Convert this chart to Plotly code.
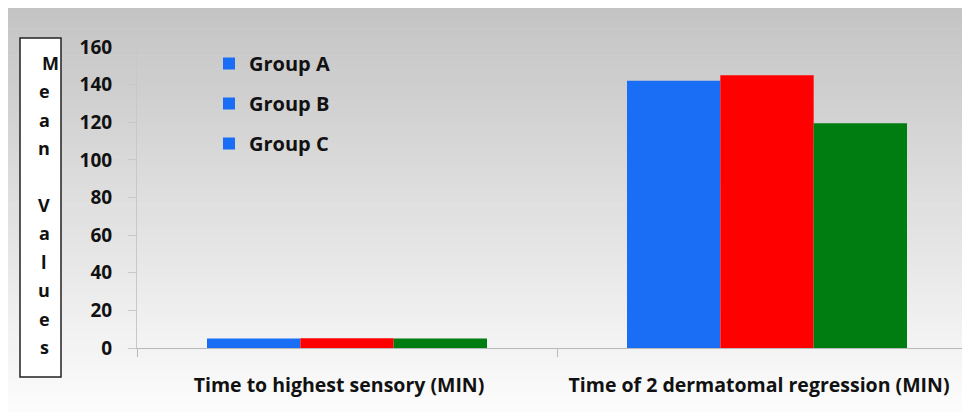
import plotly.graph_objects as go

categories = ["Time to highest sensory (MIN)", "Time of 2 dermatomal regression (MIN)"]
group_names = ["Group A", "Group B", "Group C"]
group_a = [5.1, 142]
group_b = [5.2, 145]
group_c = [5.0, 119.5]
bar_colors = ["#1a6ef5", "#ff0000", "#007d10"]
legend_color = "#1a6ef5"
y_ticks = [0, 20, 40, 60, 80, 100, 120, 140, 160]
y_title_letters = ["M", "e", "a", "n", "", "V", "a", "l", "u", "e", "s"]

# the page body adds an 8px offset; figure coordinates below are page minus 8
W, H = 962, 404
L, R, T, B = 129, 0, 39, 64
PW, PH = W - L - R, H - T - B
FONT = "'Open Sans', sans-serif"


def px(xp):
    return (xp - L) / PW


def py(yp):
    return (H - B - yp) / PH


fig = go.Figure()
for name, vals, col in zip(group_names, [group_a, group_b, group_c], bar_colors):
    fig.add_trace(go.Bar(x=categories, y=vals, name=name, marker_color=col,
                         marker_line_width=0, showlegend=False))
# legend entries (all squares drawn blue as in the source)
for name in group_names:
    fig.add_trace(go.Scatter(x=[None], y=[None], mode="markers", name=name,
                             marker=dict(symbol="square", size=12, color=legend_color),
                             legendgroup=name, showlegend=True))

shapes = []
# background gradient
n = 60
c0, c1 = 196, 252
for i in range(n):
    y0 = H * i / n
    y1 = H * (i + 1) / n + 0.6
    c = int(round(c0 + (c1 - c0) * (i / (n - 1))))
    shapes.append(dict(type="rect", xref="paper", yref="paper", layer="below",
                       x0=px(0), x1=px(W + 2), y0=py(y1), y1=py(y0),
                       line_width=0, fillcolor=f"rgb({c},{c},{c})"))
# y-title box
shapes.append(dict(type="rect", xref="paper", yref="paper",
                   x0=px(12), x1=px(53), y0=py(369), y1=py(30),
                   line=dict(color="#222", width=1.5), fillcolor="white", layer="above"))

annotations = []
for i, ch in enumerate(y_title_letters):
    if not ch:
        continue
    yy = 55 + i * 28.4
    xx = 42 if ch == "M" else 36
    annotations.append(dict(text=ch, x=px(xx), y=py(yy), xref="paper", yref="paper",
                            showarrow=False,
                            font=dict(size=18, color="#111", family=FONT, weight="bold"),
                            xanchor="center", yanchor="middle"))

fig.update_layout(
    width=W, height=H,
    margin=dict(l=L, r=R, t=T, b=B, pad=0),
    paper_bgcolor="white", plot_bgcolor="rgba(0,0,0,0)",
    barmode="group", bargap=1/3, bargroupgap=0,
    font=dict(family=FONT, color="#111"),
    shapes=shapes, annotations=annotations,
    legend=dict(x=px(201), y=py(36), xanchor="left", yanchor="top",
                bgcolor="rgba(0,0,0,0)",
                font=dict(size=20, family=FONT, color="#111", weight="bold"),
                tracegroupgap=11, itemwidth=30),
    xaxis=dict(range=[-0.5, -0.5 + PW / 420], showgrid=False, showline=True,
               linecolor="#b8b8b8", linewidth=1.2, ticks="outside", tickson="boundaries",
               ticklen=8, tickcolor="#b8b8b8",
               tickfont=dict(size=19.5, family=FONT, color="#111", weight="bold"),
               ticklabelstandoff=19, ticklabelshift=-8, zeroline=False),
    yaxis=dict(range=[0, 160], tickvals=y_ticks, showgrid=False, showline=True,
               linecolor="#c8c8c8", linewidth=1, ticks="outside", ticklen=8,
               tickcolor="#c8c8c8",
               tickfont=dict(size=19, family=FONT, color="#111", weight="bold"),
               ticklabelstandoff=12, zeroline=False),
)

fig.write_html("out.html")
